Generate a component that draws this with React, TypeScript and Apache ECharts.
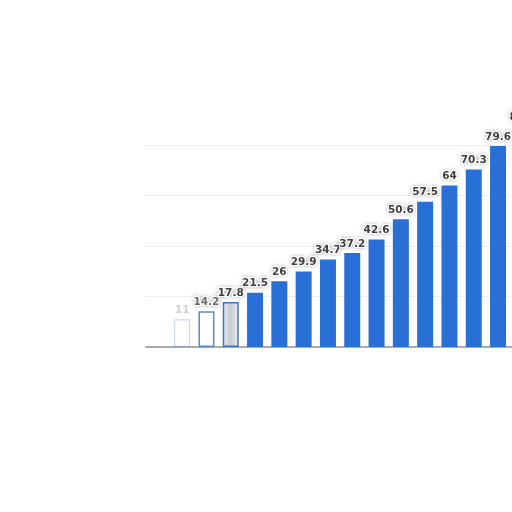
import React, { useEffect, useRef } from "react";
import * as echarts from "echarts";

const categories = ["", "c1", "c2", "c3", "c4", "c5", "c6", "c7", "c8", "c9", "c10", "c11", "c12", "c13", "c14", "c15"];
const values: (number | null)[] = [null, 11, 14.2, 17.8, 21.5, 26, 29.9, 34.7, 37.2, 42.6, 50.6, 57.5, 64, 70.3, 79.6, 87.5];
const yTicks = [0, 20, 40, 60, 80, 100];

const BLUE = "#2a6fd6";

export default function App() {
  const ref = useRef<HTMLDivElement>(null);
  useEffect(() => {
    if (!ref.current) return;
    const chart = echarts.init(ref.current, undefined, { renderer: "svg" });
    const data = values.map((v, i) => {
      if (i === 1) {
        return {
          value: v,
          itemStyle: { color: "rgba(255,255,255,0)", borderColor: "rgba(120,150,210,0.35)", borderWidth: 1.2 },
          label: { color: "rgba(120,120,120,0.35)", textShadowBlur: 0, textBorderWidth: 0 },
        };
      }
      if (i === 2) {
        return {
          value: v,
          itemStyle: { color: "#ffffff", borderColor: "#5d88cf", borderWidth: 1.5 },
          label: { color: "#6a6a6a" },
        };
      }
      if (i === 3) {
        return {
          value: v,
          itemStyle: {
            color: new echarts.graphic.LinearGradient(0, 0, 1, 0, [
              { offset: 0, color: "#e8ebf0" },
              { offset: 0.5, color: "#c4c9d2" },
              { offset: 1, color: "#e8ebf0" },
            ]),
            borderColor: "#3f72c6",
            borderWidth: 1.5,
          },
        };
      }
      return { value: v };
    });
    chart.setOption({
      animation: false,
      grid: { left: 145.7, right: 5.5, top: 94.5, bottom: 165, containLabel: false },
      xAxis: {
        type: "category",
        data: categories,
        axisLine: { show: true, lineStyle: { color: "#8f8f8f", width: 1.5 } },
        axisTick: { show: false },
        axisLabel: { show: false },
      },
      yAxis: {
        type: "value",
        min: yTicks[0],
        max: yTicks[yTicks.length - 1],
        interval: 20,
        axisLine: { show: false },
        axisTick: { show: false },
        axisLabel: { show: false },
        splitLine: {
          show: true,
          showMinLine: false,
          showMaxLine: false,
          lineStyle: { color: "#dcdcdc", type: "dotted", width: 1 },
        },
      },
      series: [
        {
          type: "bar",
          data,
          barWidth: 16,
          itemStyle: { color: BLUE },
          label: {
            show: true,
            position: "top",
            distance: 5,
            fontFamily: "DejaVu Sans, Liberation Sans, sans-serif",
            fontSize: 10.5,
            fontWeight: 600,
            color: "#3f3f3f",
            textBorderColor: "#ffffff",
            textBorderWidth: 2,
            textShadowColor: "rgba(0,0,0,0.3)",
            textShadowBlur: 4,
          },
        },
      ],
    });
    return () => chart.dispose();
  }, []);
  return (
    <div style={{ position: "fixed", left: 0, top: 0, width: 512, height: 512, overflow: "hidden", background: "#fff" }}>
      <div ref={ref} style={{ width: 540, height: 512 }} />
    </div>
  );
}
